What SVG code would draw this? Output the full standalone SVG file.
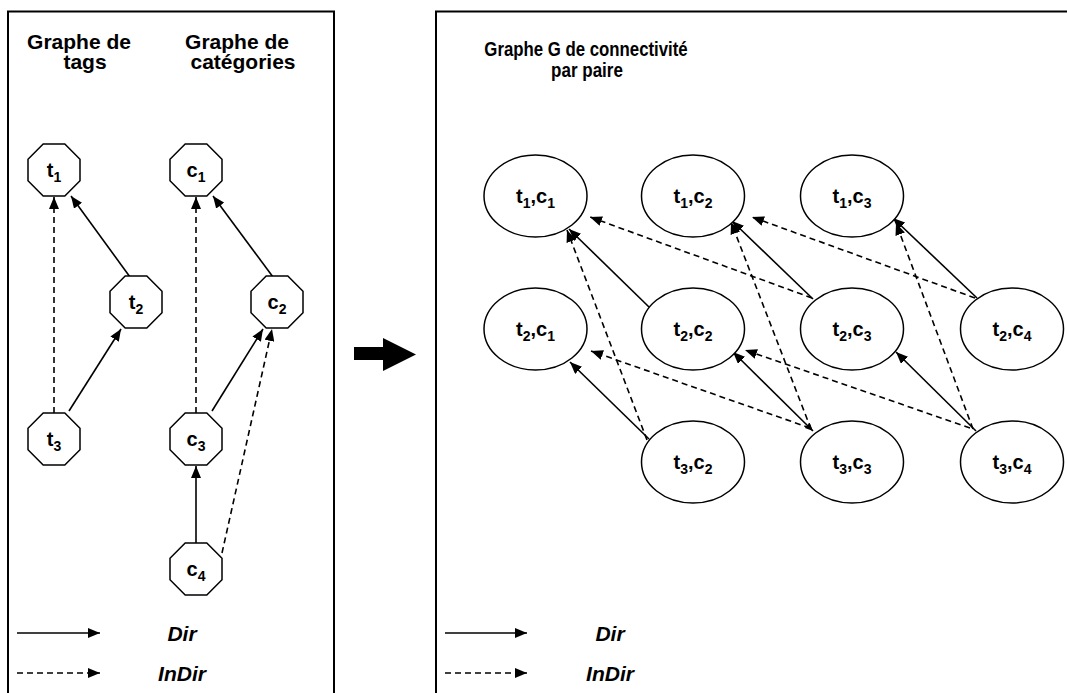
<svg xmlns="http://www.w3.org/2000/svg" width="1067" height="693" viewBox="0 0 1067 693">
<style>
.frame{fill:none;stroke:#000;stroke-width:2}
.oct{fill:#fff;stroke:#000;stroke-width:1.5}
.ell{fill:#fff;stroke:#000;stroke-width:1.5}
.dir{fill:none;stroke:#000;stroke-width:1.6}
.ind{fill:none;stroke:#000;stroke-width:1.6;stroke-dasharray:6 4}
.title{font-family:"Liberation Sans",Arial,sans-serif;font-weight:bold;font-size:21px;text-anchor:middle;fill:#000}
.lab{font-family:"Liberation Sans",Arial,sans-serif;font-weight:bold;font-size:20px;text-anchor:middle;fill:#000}
.olab{font-family:"Liberation Sans",Arial,sans-serif;font-weight:bold;font-size:20px;text-anchor:middle;fill:#000}
.sub{font-size:14px}
.leg{font-family:"Liberation Sans",Arial,sans-serif;font-weight:bold;font-style:italic;font-size:21px;text-anchor:middle;fill:#000}
</style>
<defs>
<marker id="ah" viewBox="0 0 12 10" refX="12" refY="5" markerWidth="12" markerHeight="10" markerUnits="userSpaceOnUse" orient="auto"><path d="M0,0 L12,5 L0,10 z" fill="#000"/></marker>
<marker id="ahs" viewBox="0 0 8 7" refX="8" refY="3.5" markerWidth="8" markerHeight="7" markerUnits="userSpaceOnUse" orient="auto-start-reverse"><path d="M0,0 L8,3.5 L0,7 z" fill="#000"/></marker>
<polygon id="octo" points="-10.8,-26 10.8,-26 26,-10.8 26,10.8 10.8,26 -10.8,26 -26,10.8 -26,-10.8"/>
</defs>
<rect width="1067" height="693" fill="#fff"/>
<g id="frames">
<path class="frame" d="M8,700 V11.5 H334 V700"/>
<path class="frame" d="M436,700 V11.5 H1070"/>
</g>
<g id="titles">
<text class="title" x="79" y="49">Graphe de</text>
<text class="title" x="85" y="69">tags</text>
<text class="title" x="237" y="49">Graphe de</text>
<text class="title" x="243" y="69">catégories</text>
<text class="title" transform="translate(586,56) scale(0.8,1)" x="0" y="0">Graphe G de connectivité</text>
<text class="title" transform="translate(587,77) scale(0.81,1)" x="0" y="0">par paire</text>
</g>
<g id="big-arrow">
<path d="M354,347 H383 V338 L416,354.5 L383,371 V360 H354 Z" fill="#000"/>
</g>
<g id="connectors">
<line class="ind" x1="54" y1="413" x2="54" y2="197" marker-end="url(#ah)"/>
<line class="dir" x1="130" y1="277" x2="71" y2="196" marker-end="url(#ah)"/>
<line class="dir" x1="69" y1="411" x2="121" y2="329" marker-end="url(#ah)"/>
<line class="ind" x1="196" y1="413" x2="196" y2="197" marker-end="url(#ah)"/>
<line class="dir" x1="273" y1="277" x2="213" y2="196" marker-end="url(#ah)"/>
<line class="dir" x1="212" y1="411" x2="263" y2="329" marker-end="url(#ah)"/>
<line class="ind" x1="222" y1="553" x2="272" y2="329" marker-end="url(#ah)"/>
<line class="dir" x1="196" y1="543" x2="196" y2="466" marker-end="url(#ah)"/>
<line class="dir" x1="649" y1="307" x2="569" y2="229" marker-end="url(#ah)"/>
<line class="dir" x1="813" y1="299" x2="732" y2="221" marker-end="url(#ah)"/>
<line class="dir" x1="977" y1="298" x2="893" y2="218" marker-end="url(#ah)"/>
<line class="dir" x1="649" y1="439" x2="570" y2="362" marker-end="url(#ah)"/>
<line class="dir" x1="813" y1="431" x2="733" y2="352" marker-start="url(#ahs)" marker-end="url(#ah)"/>
<line class="dir" x1="976" y1="431" x2="896" y2="352" marker-end="url(#ah)"/>
<line class="ind" x1="812" y1="298" x2="590" y2="217" marker-end="url(#ah)"/>
<line class="ind" x1="975" y1="298" x2="752" y2="217" marker-end="url(#ah)"/>
<line class="ind" x1="647" y1="440" x2="567" y2="230" marker-end="url(#ah)"/>
<line class="ind" x1="811" y1="429" x2="731" y2="222" marker-end="url(#ah)"/>
<line class="ind" x1="973" y1="429" x2="896" y2="223" marker-end="url(#ah)"/>
<line class="ind" x1="810" y1="428" x2="591" y2="351" marker-end="url(#ah)"/>
<line class="ind" x1="970" y1="428" x2="745" y2="350" marker-end="url(#ah)"/>
</g>
<g id="node-t1"><use href="#octo" class="oct" x="54" y="170"/><text class="olab" x="54" y="177">t<tspan class="sub" dy="5">1</tspan></text></g>
<g id="node-t2"><use href="#octo" class="oct" x="136" y="302"/><text class="olab" x="136" y="309">t<tspan class="sub" dy="5">2</tspan></text></g>
<g id="node-t3"><use href="#octo" class="oct" x="54" y="439"/><text class="olab" x="54" y="446">t<tspan class="sub" dy="5">3</tspan></text></g>
<g id="node-c1"><use href="#octo" class="oct" x="196" y="170"/><text class="olab" x="196" y="177">c<tspan class="sub" dy="5">1</tspan></text></g>
<g id="node-c2"><use href="#octo" class="oct" x="277" y="302"/><text class="olab" x="277" y="309">c<tspan class="sub" dy="5">2</tspan></text></g>
<g id="node-c3"><use href="#octo" class="oct" x="196" y="439"/><text class="olab" x="196" y="446">c<tspan class="sub" dy="5">3</tspan></text></g>
<g id="node-c4"><use href="#octo" class="oct" x="196" y="569"/><text class="olab" x="196" y="576">c<tspan class="sub" dy="5">4</tspan></text></g>
<g id="node-t1c1"><ellipse class="ell" cx="535.5" cy="196" rx="51.5" ry="41"/><text class="lab" x="535.5" y="203">t<tspan class="sub" dy="5">1</tspan><tspan dy="-5">,c</tspan><tspan class="sub" dy="5">1</tspan></text></g>
<g id="node-t1c2"><ellipse class="ell" cx="693" cy="196" rx="51.5" ry="41"/><text class="lab" x="693" y="203">t<tspan class="sub" dy="5">1</tspan><tspan dy="-5">,c</tspan><tspan class="sub" dy="5">2</tspan></text></g>
<g id="node-t1c3"><ellipse class="ell" cx="852" cy="196" rx="51.5" ry="41"/><text class="lab" x="852" y="203">t<tspan class="sub" dy="5">1</tspan><tspan dy="-5">,c</tspan><tspan class="sub" dy="5">3</tspan></text></g>
<g id="node-t2c1"><ellipse class="ell" cx="535.5" cy="329" rx="51.5" ry="41"/><text class="lab" x="535.5" y="336">t<tspan class="sub" dy="5">2</tspan><tspan dy="-5">,c</tspan><tspan class="sub" dy="5">1</tspan></text></g>
<g id="node-t2c2"><ellipse class="ell" cx="693" cy="329" rx="51.5" ry="41"/><text class="lab" x="693" y="336">t<tspan class="sub" dy="5">2</tspan><tspan dy="-5">,c</tspan><tspan class="sub" dy="5">2</tspan></text></g>
<g id="node-t2c3"><ellipse class="ell" cx="852" cy="329" rx="51.5" ry="41"/><text class="lab" x="852" y="336">t<tspan class="sub" dy="5">2</tspan><tspan dy="-5">,c</tspan><tspan class="sub" dy="5">3</tspan></text></g>
<g id="node-t2c4"><ellipse class="ell" cx="1012" cy="329" rx="51.5" ry="41"/><text class="lab" x="1012" y="336">t<tspan class="sub" dy="5">2</tspan><tspan dy="-5">,c</tspan><tspan class="sub" dy="5">4</tspan></text></g>
<g id="node-t3c2"><ellipse class="ell" cx="693" cy="462" rx="51.5" ry="41"/><text class="lab" x="693" y="469">t<tspan class="sub" dy="5">3</tspan><tspan dy="-5">,c</tspan><tspan class="sub" dy="5">2</tspan></text></g>
<g id="node-t3c3"><ellipse class="ell" cx="852" cy="462" rx="51.5" ry="41"/><text class="lab" x="852" y="469">t<tspan class="sub" dy="5">3</tspan><tspan dy="-5">,c</tspan><tspan class="sub" dy="5">3</tspan></text></g>
<g id="node-t3c4"><ellipse class="ell" cx="1012" cy="462" rx="51.5" ry="41"/><text class="lab" x="1012" y="469">t<tspan class="sub" dy="5">3</tspan><tspan dy="-5">,c</tspan><tspan class="sub" dy="5">4</tspan></text></g>
<g id="legend-left">
<line class="dir" x1="17" y1="633" x2="100" y2="633" marker-end="url(#ah)"/>
<line class="ind" x1="17" y1="673" x2="100" y2="673" marker-end="url(#ah)"/>
<text class="leg" x="182" y="641">Dir</text>
<text class="leg" x="182" y="681">InDir</text>
</g>
<g id="legend-right">
<line class="dir" x1="445" y1="633" x2="527" y2="633" marker-end="url(#ah)"/>
<line class="ind" x1="445" y1="673" x2="527" y2="673" marker-end="url(#ah)"/>
<text class="leg" x="610" y="641">Dir</text>
<text class="leg" x="610" y="681">InDir</text>
</g>
</svg>
